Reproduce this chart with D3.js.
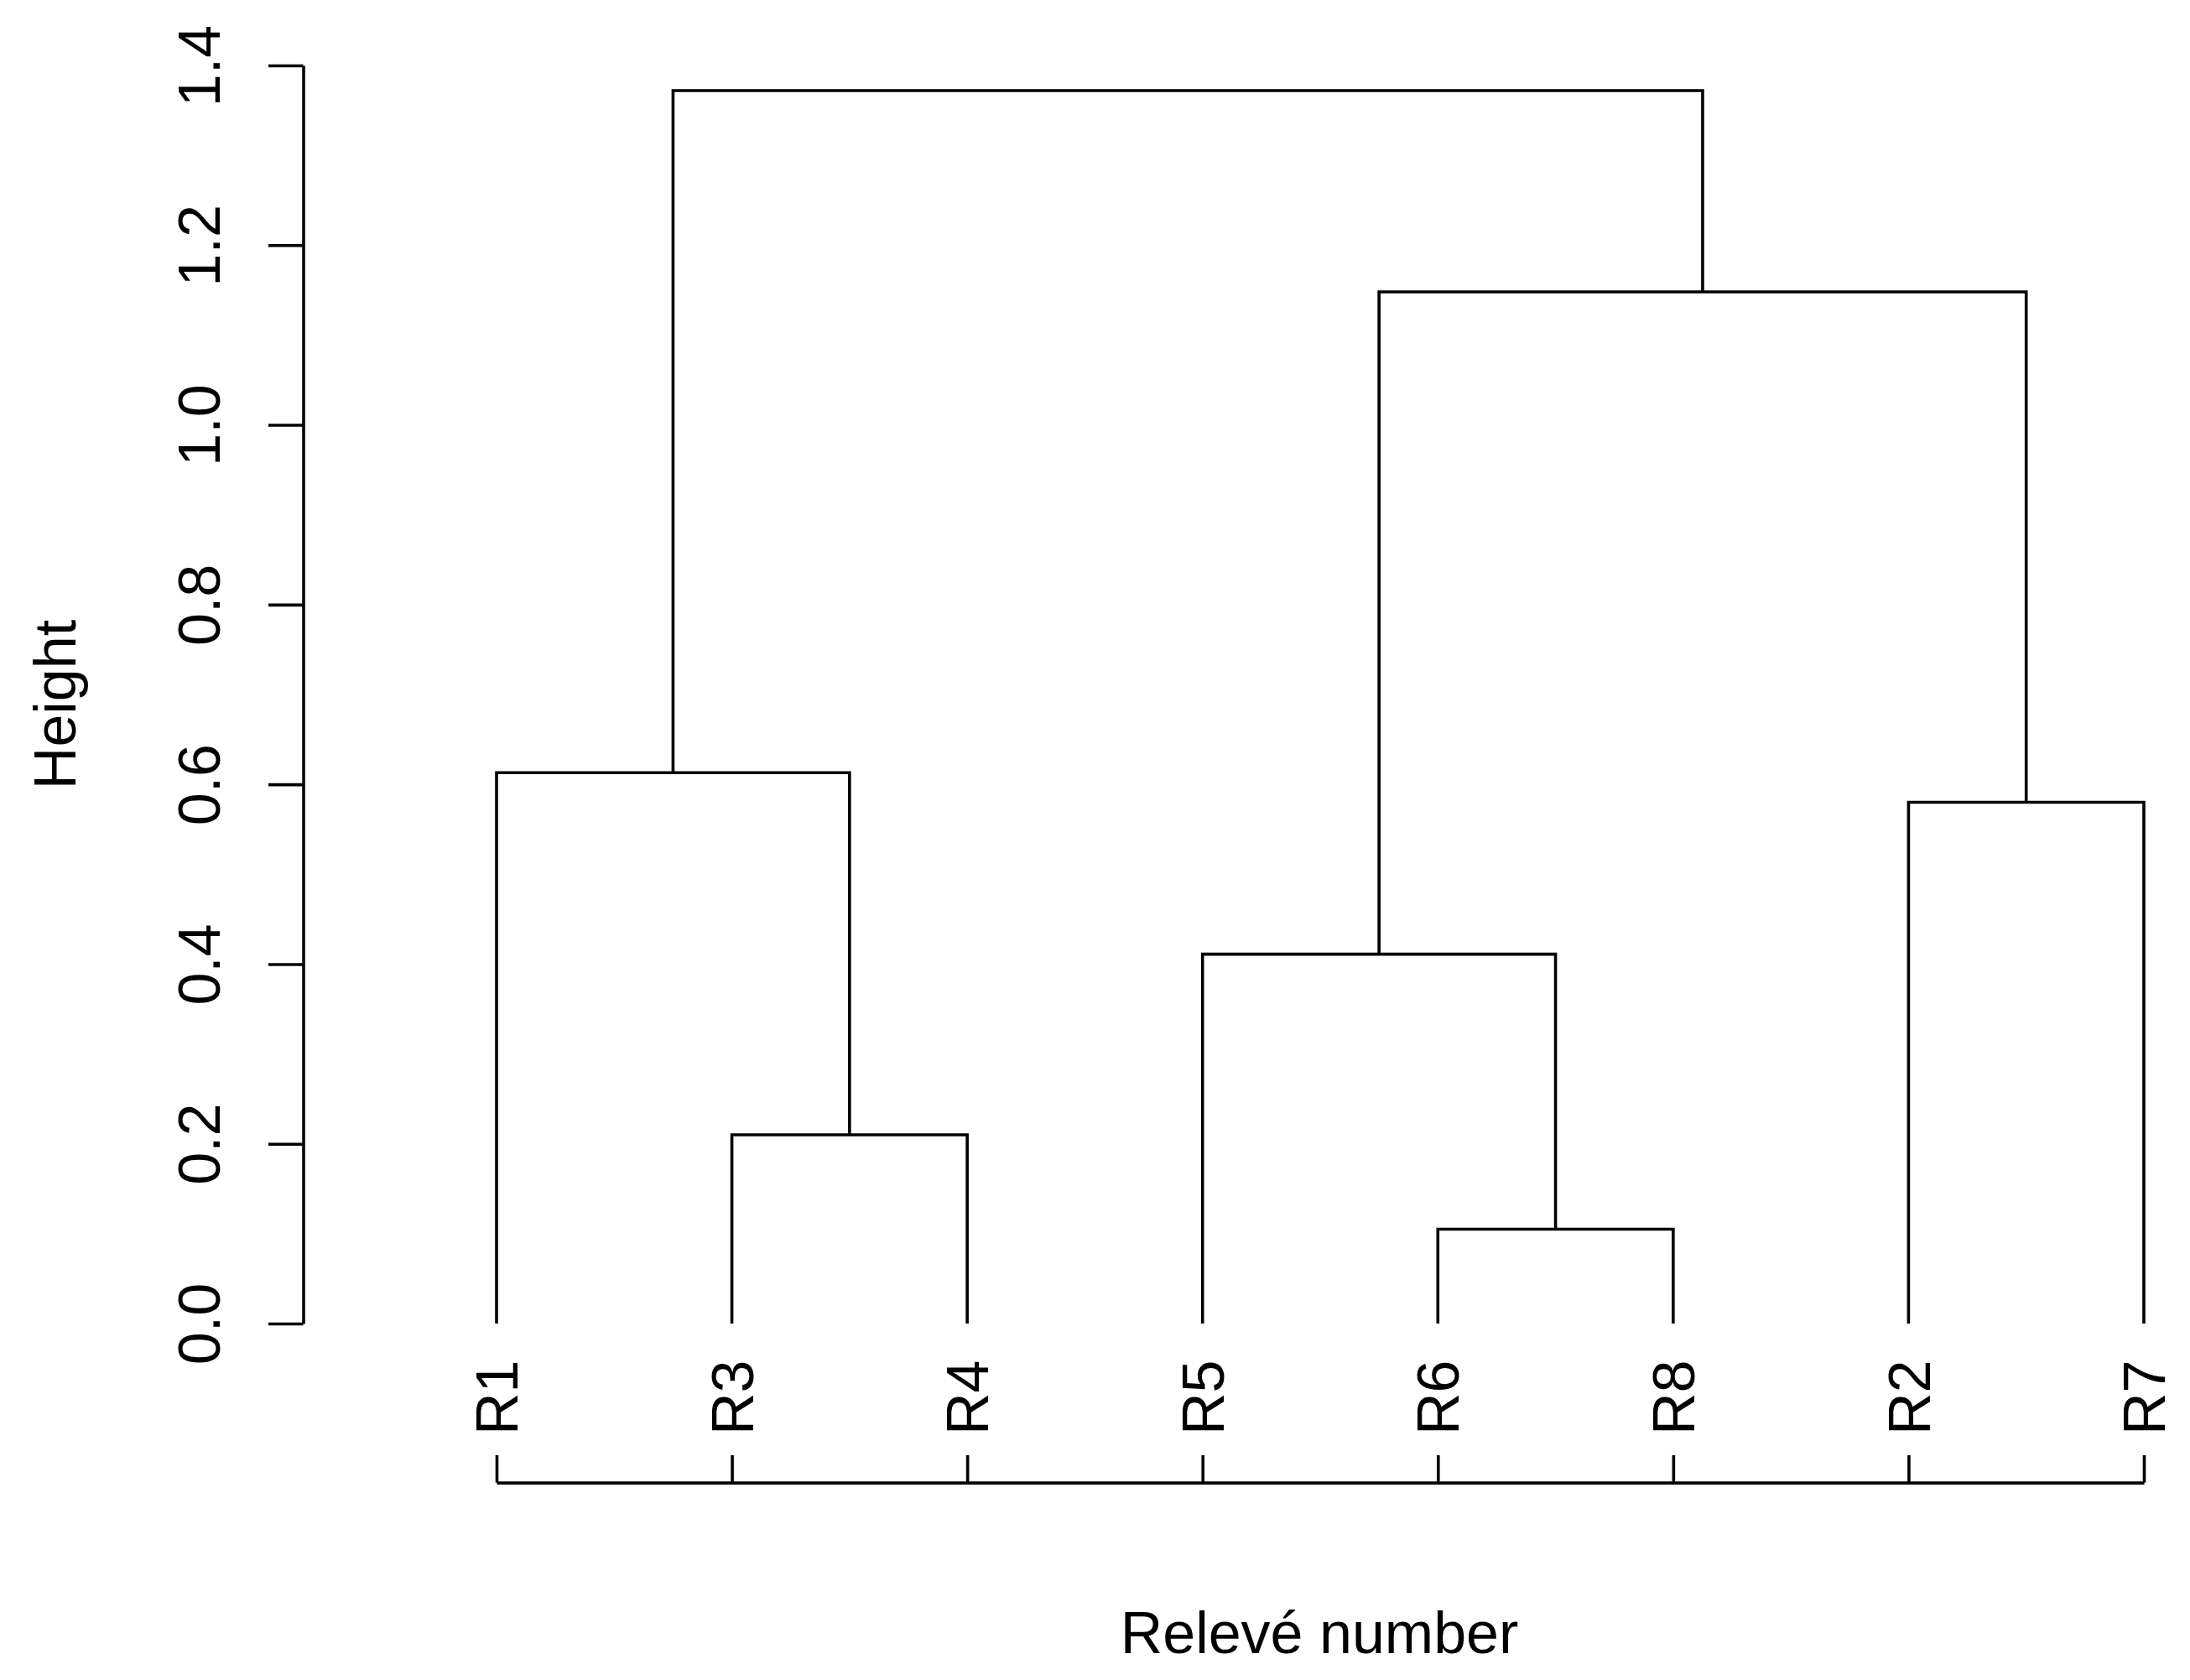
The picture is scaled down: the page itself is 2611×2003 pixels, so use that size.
<!DOCTYPE html>
<html>
<head>
<meta charset="utf-8">
<script src="https://cdn.jsdelivr.net/npm/d3@7"></script>
<style>
	body { margin: 0; background: #fff; }
	text { font-family: 'Liberation Sans', Arial, sans-serif; fill: #000; }
</style>
</head>
<body>
<div class="canvas"></div>
<script>
const dims = {width: 2611, height: 2003};

// leaves in plotted order
const leafOrder = ['R1', 'R3', 'R4', 'R5', 'R6', 'R8', 'R2', 'R7'];

// clusters (merge nodes) and their heights
const clusterIds = ['n7', 'n5', 'n6', 'n1', 'n4', 'n3', 'n2'];
const clusterParents = ['', 'n7', 'n7', 'n5', 'n6', 'n4', 'n6'];
const clusterHeights = [1.372, 0.613, 1.148, 0.21, 0.411, 0.105, 0.58];

// leaf -> parent cluster
const leafParents = ['n5', 'n1', 'n1', 'n4', 'n3', 'n3', 'n2', 'n2'];

const yTicks = [0, 0.2, 0.4, 0.6, 0.8, 1.0, 1.2, 1.4];

const lw = 3.6;

const svg = d3.select('.canvas')
	.append('svg')
	.attr('width', dims.width)
	.attr('height', dims.height);

svg.append('rect')
	.attr('width', dims.width)
	.attr('height', dims.height)
	.attr('fill', '#fff');

// scales
const x = d3.scalePoint()
	.domain(leafOrder)
	.range([592, 2556]);

const y = d3.scaleLinear()
	.domain([0, 1.4])
	.range([1578, 78]);

// build the tree
const table = clusterIds.map((id, i) => ({name: id, parent: clusterParents[i], height: clusterHeights[i]}))
	.concat(leafOrder.map((id, i) => ({name: id, parent: leafParents[i], height: 0})));

const root = d3.stratify()
	.id(d => d.name)
	.parentId(d => d.parent || null)(table);

root.eachAfter(node => {
	if (!node.children) node.px = x(node.data.name);
	else node.px = d3.mean(node.children, c => c.px);
});

// dendrogram links
const graph = svg.append('g');

graph.selectAll('.link')
	.data(root.descendants().filter(d => d.children))
	.enter()
	.append('path')
		.attr('class', 'link')
		.attr('fill', 'none')
		.attr('stroke', '#000')
		.attr('stroke-width', lw)
		.attr('stroke-linejoin', 'miter')
		.attr('d', d => {
			const [a, b] = d.children.slice().sort((p, q) => p.px - q.px);
			const h = y(d.data.height);
			return `M${a.px},${y(a.data.height)}V${h}H${b.px}V${y(b.data.height)}`;
		});

// y axis
const yAxis = svg.append('g')
	.attr('transform', 'translate(361.5, 0)')
	.call(d3.axisLeft(y)
		.tickValues(yTicks)
		.tickSizeInner(41.5)
		.tickSizeOuter(0)
		.tickFormat(d3.format('.1f')));

yAxis.select('.domain').attr('stroke-width', lw);
yAxis.selectAll('.tick line').attr('stroke-width', lw);
yAxis.selectAll('.tick text')
	.attr('x', null)
	.attr('dy', null)
	.attr('transform', 'translate(-99.5, 0) rotate(-90)')
	.attr('text-anchor', 'middle')
	.attr('font-size', 70)
	.attr('font-family', null)
	.attr('fill', '#000');

// x axis (ticks pointing up, no labels)
const xAxis = svg.append('g')
	.attr('transform', 'translate(0, 1767.6)')
	.call(d3.axisBottom(x)
		.tickSizeInner(-32.6)
		.tickSizeOuter(0)
		.tickFormat(''));

xAxis.select('.domain').attr('stroke-width', lw);
xAxis.selectAll('.tick line').attr('stroke-width', lw);

// leaf labels
svg.selectAll('.leaf-label')
	.data(leafOrder)
	.enter()
	.append('text')
		.attr('class', 'leaf-label')
		.attr('transform', d => `translate(${x(d)}, 1711) rotate(-90)`)
		.attr('dy', '0.36em')
		.attr('text-anchor', 'start')
		.attr('font-size', 70)
		.text(d => d);

// axis titles
svg.append('text')
	.attr('transform', 'translate(90, 840) rotate(-90)')
	.attr('text-anchor', 'middle')
	.attr('font-size', 70)
	.text('Height');

svg.append('text')
	.attr('x', 1573)
	.attr('y', 1970.7)
	.attr('text-anchor', 'middle')
	.attr('font-size', 70)
	.text('Relevé number');
</script>
</body>
</html>
